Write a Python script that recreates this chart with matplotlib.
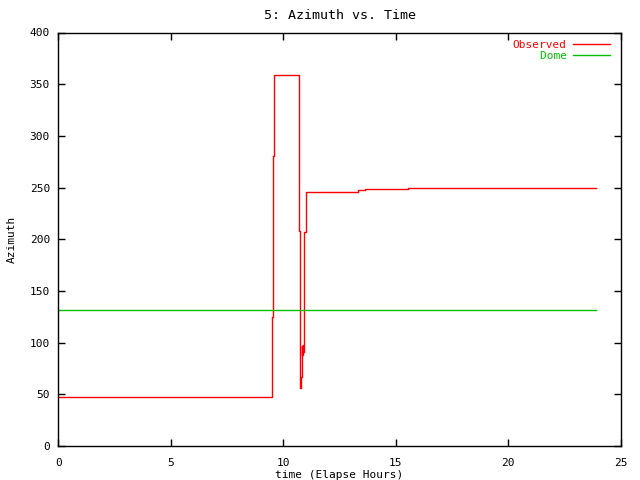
import matplotlib
matplotlib.use("Agg")
import matplotlib.pyplot as plt

plt.rcParams['font.family'] = 'DejaVu Sans Mono'
plt.rcParams['font.size'] = 8

# observed azimuth (step data), hours vs degrees
obs_t = [0, 9.51, 9.56, 9.60, 10.71, 10.76, 10.79, 10.82, 10.85, 10.87, 10.89,
         10.93, 11.01, 13.31, 13.63, 15.53, 23.9]
obs_az = [47, 125, 281, 359, 208, 56, 67, 97, 88, 98, 91,
          207, 246, 248, 249, 250, 250]
# dome azimuth
dome_t = [0, 23.9]
dome_az = [131.5, 131.5]

fig = plt.figure(figsize=(6.4, 4.8), dpi=100)
ax = fig.add_axes([58.3/640, 34/480, 562.4/640, 413.5/480])

ax.plot(obs_t, obs_az, color="#ff0000", lw=1, drawstyle="steps-post", label="Observed")
ax.plot(dome_t, dome_az, color="#00c000", lw=1, label="    Dome")

ax.set_xlim(0, 25)
ax.set_ylim(0, 400)
ax.set_xticks(range(0, 26, 5))
ax.set_yticks(range(0, 401, 50))
ax.tick_params(direction="in", top=True, right=True, length=5, width=1, pad=6)
ax.tick_params(axis="x", pad=9)
for s in ax.spines.values():
    s.set_linewidth(1)

ax.set_title("5: Azimuth vs. Time", pad=10)
ax.set_xlabel("time (Elapse Hours)", labelpad=1)
ax.set_ylabel("Azimuth", labelpad=9)

leg = ax.legend(loc="upper right", markerfirst=False, frameon=False,
                handlelength=3.3, handletextpad=0.6, labelspacing=0.1,
                borderaxespad=0.3, bbox_to_anchor=(0.995, 1.0))
for txt, c in zip(leg.get_texts(), ["#ff0000", "#00c000"]):
    txt.set_color(c)

fig.savefig("out.png", dpi=100)
